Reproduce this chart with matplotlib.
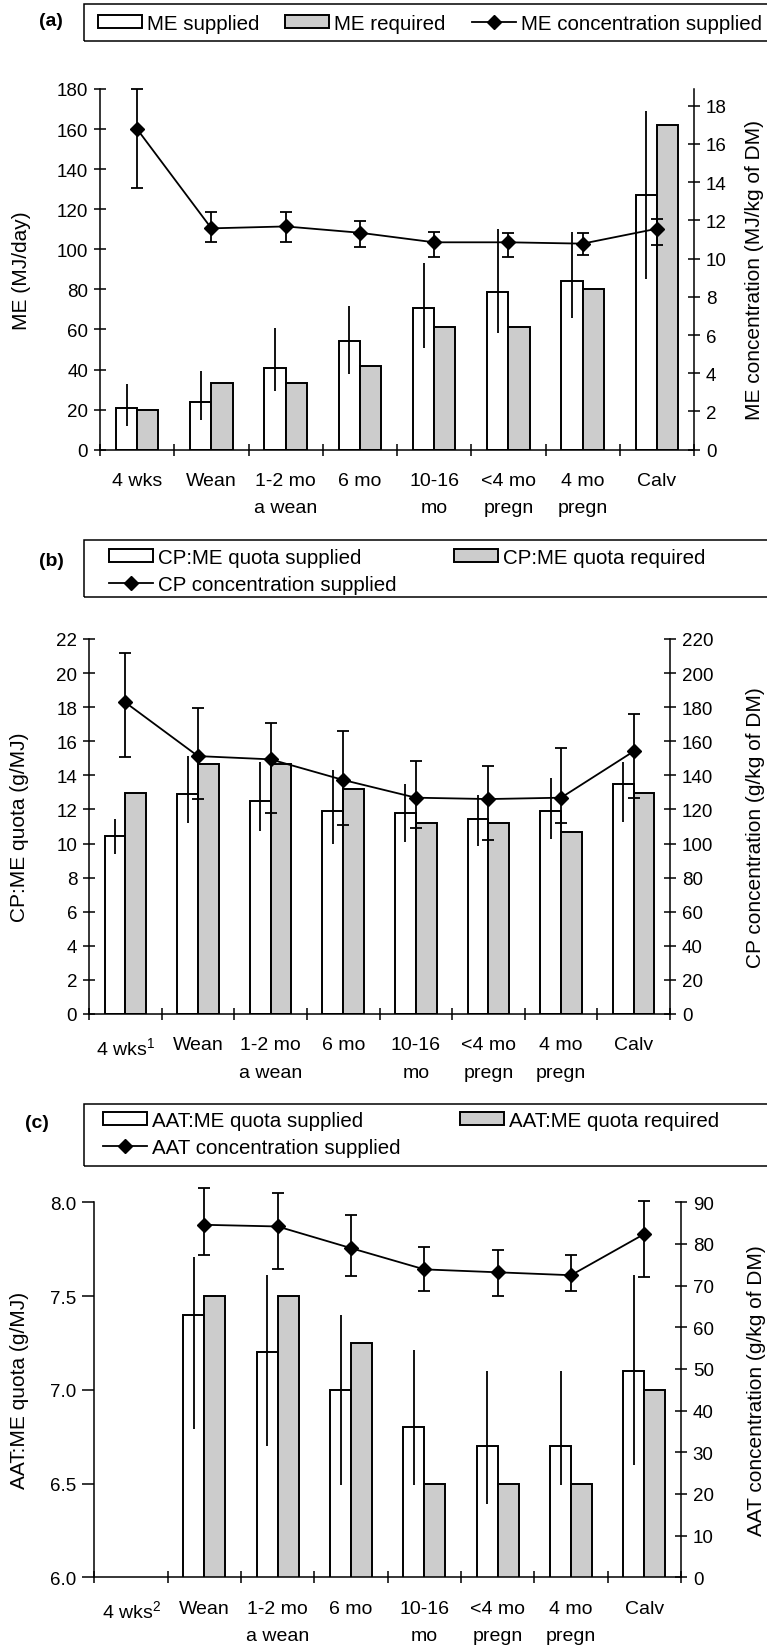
import matplotlib
matplotlib.use("Agg")
import matplotlib.pyplot as plt
import numpy as np
from matplotlib import font_manager
from matplotlib.lines import Line2D
from matplotlib.patches import Patch, Rectangle

# Figure size in pixels (dpi 100).
W, H = 767, 1649

STAGES = ["4 wks", "Wean", "1-2 mo\na wean", "6 mo", "10-16\nmo",
          "<4 mo\npregn", "4 mo\npregn", "Calv"]
STAGES_B = ["4 wks$^{1}$"] + STAGES[1:]
STAGES_C = ["4 wks$^{2}$"] + STAGES[1:]

# (a) metabolisable energy
me_supplied = [20.6, 24.0, 40.6, 54.1, 70.9, 78.9, 84.2, 127.0]
me_supplied_lo = [11.6, 14.6, 29.1, 37.8, 50.6, 58.3, 65.6, 85.4]
me_supplied_hi = [32.8, 39.1, 60.7, 71.7, 93.2, 109.9, 108.4, 168.8]
me_required = [19.8, 33.4, 33.4, 41.6, 61.2, 61.2, 80.2, 162.1]
me_conc = [16.77, 11.58, 11.68, 11.35, 10.85, 10.85, 10.78, 11.56]
me_conc_lo = [13.7, 10.85, 10.85, 10.58, 10.1, 10.1, 10.16, 10.69]
me_conc_hi = [18.88, 12.42, 12.42, 11.95, 11.4, 11.34, 11.35, 12.09]

# (b) crude protein
cp_supplied = [10.46, 12.93, 12.51, 11.89, 11.79, 11.42, 11.89, 13.47]
cp_supplied_lo = [9.39, 11.18, 10.72, 9.95, 10.07, 9.87, 10.25, 11.28]
cp_supplied_hi = [11.44, 15.15, 14.76, 14.33, 13.49, 12.83, 13.86, 14.76]
cp_required = [12.98, 14.67, 14.67, 13.18, 11.22, 11.22, 10.66, 12.94]
cp_conc = [182.8, 151.3, 149.4, 137.3, 126.9, 126.1, 126.9, 154.1]
cp_conc_lo = [150.6, 126.1, 117.7, 111.1, 109.3, 101.9, 112.2, 126.5]
cp_conc_hi = [211.8, 179.3, 170.7, 166.2, 148.4, 145.7, 156.2, 176.2]

# (c) amino acids absorbed in the small intestine (no data for 4 wks)
nan = np.nan
aat_supplied = [nan, 7.40, 7.20, 7.00, 6.80, 6.70, 6.70, 7.10]
aat_supplied_lo = [nan, 6.79, 6.70, 6.49, 6.49, 6.39, 6.49, 6.60]
aat_supplied_hi = [nan, 7.71, 7.61, 7.40, 7.21, 7.10, 7.10, 7.61]
aat_required = [nan, 7.50, 7.50, 7.25, 6.50, 6.50, 6.50, 7.00]
aat_conc = [nan, 84.6, 84.2, 79.0, 73.9, 73.2, 72.5, 82.4]
aat_conc_lo = [nan, 77.4, 73.9, 72.4, 68.6, 67.4, 68.6, 72.0]
aat_conc_hi = [nan, 93.5, 92.3, 87.0, 79.3, 78.6, 77.4, 90.4]

GRAY = "#cccccc"
BAR_W = 0.285
LW = 1.1

plt.rcParams["font.family"] = ["Liberation Sans", "DejaVu Sans"]
plt.rcParams["mathtext.fontset"] = "custom"
plt.rcParams["mathtext.rm"] = "Liberation Sans"
plt.rcParams["mathtext.it"] = "Liberation Sans"
plt.rcParams["mathtext.default"] = "regular"

# Condensed legend text if the narrow face is around.
_names = {f.name for f in font_manager.fontManager.ttflist}
if "Liberation Sans Narrow" in _names:
    LEGEND_FONT, LEGEND_SIZE = "Liberation Sans Narrow", 18
else:
    LEGEND_FONT, LEGEND_SIZE = "Liberation Sans", 14.8
LEGEND_PX = LEGEND_SIZE * 100 / 72

fig = plt.figure(figsize=(W / 100, H / 100), dpi=100)


def px_rect(left, top, right, bottom):
    return [left / W, 1 - bottom / H, (right - left) / W, (bottom - top) / H]


def draw_panel(box, labels, supplied, lo, hi, required, conc, conc_lo,
               conc_hi, left_lim, left_ticks, right_lim, right_ticks,
               left_label, right_label, label_x, left_dir="inout",
               left_fmt=None):
    left, top, right, bottom = box
    ax = fig.add_axes(px_rect(*box))
    x = np.arange(len(labels)) + 0.5
    supplied = np.array(supplied)

    ax.bar(x - BAR_W / 2, supplied, BAR_W, facecolor="white",
           edgecolor="black", linewidth=1.4, zorder=2)
    ax.bar(x + BAR_W / 2, required, BAR_W, facecolor=GRAY,
           edgecolor="black", linewidth=1.4, zorder=2)
    ax.errorbar(x - BAR_W / 2, supplied,
                yerr=[supplied - np.array(lo), np.array(hi) - supplied],
                fmt="none", ecolor="black", elinewidth=1.3, capsize=0,
                zorder=3)

    ax.set_xlim(0, len(labels))
    ax.set_ylim(*left_lim)
    ax.set_xticks(x)
    ax.set_xticklabels(labels, fontsize=14, linespacing=1.8)
    ax.set_xticks(np.arange(len(labels) + 1), minor=True)
    ax.tick_params(axis="x", which="major", length=0, pad=16)
    ax.tick_params(axis="x", which="minor", direction="inout", length=9,
                   width=LW)
    ax.set_yticks(left_ticks)
    if left_fmt:
        ax.set_yticklabels([left_fmt % t for t in left_ticks])
    ax.tick_params(axis="y", direction=left_dir, length=9, width=LW,
                   labelsize=13.5, pad=4)
    for side in ("top", "right"):
        ax.spines[side].set_visible(False)
    for side in ("left", "bottom"):
        ax.spines[side].set_linewidth(LW)
    ax.set_ylabel(left_label, fontsize=15, va="center")
    ax.yaxis.set_label_coords((label_x[0] - left) / (right - left), 0.5)

    ax2 = ax.twinx()
    cont = ax2.errorbar(x, conc,
                        yerr=[np.array(conc) - np.array(conc_lo),
                              np.array(conc_hi) - np.array(conc)],
                        color="black", linewidth=1.3, marker="D",
                        markersize=7, capsize=4.3, capthick=1.3,
                        elinewidth=1.3, zorder=4)
    for artist in cont.get_children():
        artist.set_clip_on(False)
    ax2.set_ylim(*right_lim)
    ax2.set_yticks(right_ticks)
    ax2.tick_params(axis="y", direction="inout", length=9, width=LW,
                    labelsize=13.5, pad=4)
    for side in ("top", "left", "bottom"):
        ax2.spines[side].set_visible(False)
    ax2.spines["right"].set_linewidth(LW)
    ax2.set_ylabel(right_label, fontsize=15, va="center")
    ax2.yaxis.set_label_coords((label_x[1] - left) / (right - left), 0.5)
    return ax, ax2


def add_legend(handles, labels, ncol, x0, y0, colsp, box_y):
    fig.legend(handles, labels, loc="upper left",
               bbox_to_anchor=(x0 / W, 1 - y0 / H), ncol=ncol,
               frameon=False, borderpad=0, borderaxespad=0,
               handlelength=44 / LEGEND_PX, handleheight=12 / LEGEND_PX,
               handletextpad=5 / LEGEND_PX, columnspacing=colsp / LEGEND_PX,
               labelspacing=0.39,
               prop={"family": LEGEND_FONT, "size": LEGEND_SIZE})
    fig.patches.append(Rectangle((84 / W, 1 - box_y[1] / H),
                                 (900 - 84) / W, (box_y[1] - box_y[0]) / H,
                                 transform=fig.transFigure, fill=False,
                                 edgecolor="black", linewidth=LW))


def handles():
    return [Patch(facecolor="white", edgecolor="black", linewidth=1.4),
            Patch(facecolor=GRAY, edgecolor="black", linewidth=1.4),
            Line2D([], [], color="black", marker="D", markersize=7,
                   linewidth=1.3)]


# (a)
draw_panel((100, 90, 694, 450.7), STAGES, me_supplied, me_supplied_lo,
           me_supplied_hi, me_required, me_conc, me_conc_lo, me_conc_hi,
           (0, 180), np.arange(0, 181, 20), (0, 18.87), np.arange(0, 19, 2),
           "ME (MJ/day)", "ME concentration (MJ/kg of DM)", (22, 755))
h = handles()
add_legend(h, ["ME supplied", "ME required", "ME concentration supplied"],
           3, 98, 15, 26, (4.7, 41.7))
fig.text(51 / W, 1 - 22 / H, "(a)", fontsize=14, fontweight="bold",
         ha="center", va="center")

# (b)
draw_panel((89, 640, 670, 1015), STAGES_B, cp_supplied, cp_supplied_lo,
           cp_supplied_hi, cp_required, cp_conc, cp_conc_lo, cp_conc_hi,
           (0, 22), np.arange(0, 23, 2), (0, 220), np.arange(0, 221, 20),
           "CP:ME quota (g/MJ)", "CP concentration (g/kg of DM)", (20, 755))
h = handles()
add_legend([h[0], h[2], h[1]],
           ["CP:ME quota supplied", "CP concentration supplied",
            "CP:ME quota required"], 2, 108.6, 549, 58, (541, 598))
fig.text(51 / W, 1 - 561 / H, "(b)", fontsize=14, fontweight="bold",
         ha="center", va="center")

# (c)
draw_panel((94.3, 1203.3, 681, 1578.3), STAGES_C, aat_supplied,
           aat_supplied_lo, aat_supplied_hi, aat_required, aat_conc,
           aat_conc_lo, aat_conc_hi, (6.0, 8.0), np.arange(6.0, 8.01, 0.5),
           (0, 90), np.arange(0, 91, 10), "AAT:ME quota (g/MJ)",
           "AAT concentration (g/kg of DM)", (20, 757), left_dir="out",
           left_fmt="%.1f")
h = handles()
add_legend([h[0], h[2], h[1]],
           ["AAT:ME quota supplied", "AAT concentration supplied",
            "AAT:ME quota required"], 2, 102.7, 1112, 60, (1105, 1166.5))
fig.text(37 / W, 1 - 1123 / H, "(c)", fontsize=14, fontweight="bold",
         ha="center", va="center")

fig.savefig("out.png", dpi=100)
